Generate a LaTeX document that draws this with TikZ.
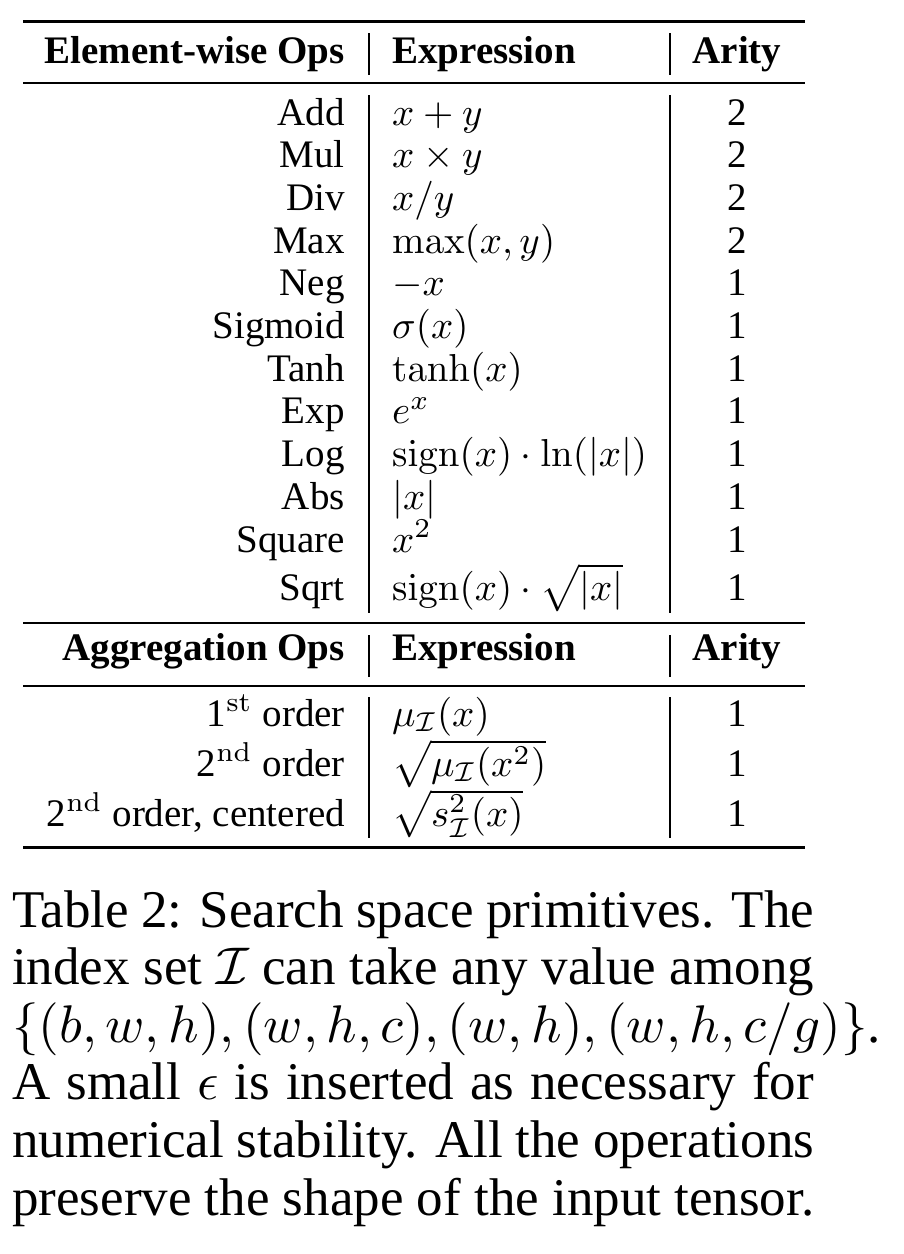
\documentclass[tikz,border=0pt]{standalone}
\usepackage{graphicx}
\usepackage[no-math]{fontspec}
\setmainfont{Liberation Serif}
\newcommand\TB[1]{\scalebox{3.9}{#1}}
\newcommand\CB[1]{\scalebox{5.3}{#1}}
\tikzset{
  tab/.style={inner sep=0pt, font=\fontsize{10}{12}\selectfont},
  hdrfont/.style={font=\fontsize{10}{12}\selectfont\bfseries},
  opname/.style={tab, anchor=base east},
  expr/.style={tab, anchor=base west},
  ar/.style={tab, anchor=base},
  captext/.style={inner sep=0pt, anchor=base west, font=\fontsize{10}{12}\selectfont},
  heavyrule/.style={line width=3pt},
  lightrule/.style={line width=2pt},
  colrule/.style={line width=1.4pt},
}
\begin{document}
\begin{tikzpicture}[x=1pt,y=-1pt]
\useasboundingbox (0,0) rectangle (904,1254);
% rules
\draw[heavyrule] (23,21) -- (805,21);
\draw[lightrule] (23,83) -- (805,83);
\draw[lightrule] (23,623) -- (805,623);
\draw[lightrule] (23,686) -- (805,686);
\draw[heavyrule] (23,847) -- (805,847);
% column rules
\draw[colrule] (369,33) -- (369,75);
\draw[colrule] (670,33) -- (670,75);
\draw[colrule] (369,95) -- (369,613);
\draw[colrule] (670,95) -- (670,613);
\draw[colrule] (369,635) -- (369,677);
\draw[colrule] (670,635) -- (670,677);
\draw[colrule] (369,697) -- (369,838);
\draw[colrule] (670,697) -- (670,838);
% header 1
\node[opname,hdrfont] (h1a) at (345,63) {\TB{Element-wise Ops}};
\node[expr,hdrfont] (h1b) at (392,63) {\TB{Expression}};
\node[ar,hdrfont] (h1c) at (737,63) {\TB{Arity}};
% element-wise rows
\node[opname] (r1a) at (345,125) {\TB{Add}};
\node[expr] (r1b) at (392,125) {\TB{$x+y$}};
\node[ar] (r1c) at (737,125) {\TB{2}};
\node[opname] (r2a) at (345,167.7) {\TB{Mul}};
\node[expr] (r2b) at (392,167.7) {\TB{$x\times y$}};
\node[ar] (r2c) at (737,167.7) {\TB{2}};
\node[opname] (r3a) at (345,210.4) {\TB{Div}};
\node[expr] (r3b) at (392,210.4) {\TB{$x/y$}};
\node[ar] (r3c) at (737,210.4) {\TB{2}};
\node[opname] (r4a) at (345,253.1) {\TB{Max}};
\node[expr] (r4b) at (392,253.1) {\TB{$\max(x,y)$}};
\node[ar] (r4c) at (737,253.1) {\TB{2}};
\node[opname] (r5a) at (345,295.8) {\TB{Neg}};
\node[expr] (r5b) at (392,295.8) {\TB{$-x$}};
\node[ar] (r5c) at (737,295.8) {\TB{1}};
\node[opname] (r6a) at (345,338.5) {\TB{Sigmoid}};
\node[expr] (r6b) at (392,338.5) {\TB{$\sigma(x)$}};
\node[ar] (r6c) at (737,338.5) {\TB{1}};
\node[opname] (r7a) at (345,381.2) {\TB{Tanh}};
\node[expr] (r7b) at (392,381.2) {\TB{$\tanh(x)$}};
\node[ar] (r7c) at (737,381.2) {\TB{1}};
\node[opname] (r8a) at (345,423.9) {\TB{Exp}};
\node[expr] (r8b) at (392,423.9) {\TB{$e^x$}};
\node[ar] (r8c) at (737,423.9) {\TB{1}};
\node[opname] (r9a) at (345,466.6) {\TB{Log}};
\node[expr] (r9b) at (392,466.6) {\TB{$\mathrm{sign}(x)\cdot\ln(|x|)$}};
\node[ar] (r9c) at (737,466.6) {\TB{1}};
\node[opname] (r10a) at (345,509.3) {\TB{Abs}};
\node[expr] (r10b) at (392,509.3) {\TB{$|x|$}};
\node[ar] (r10c) at (737,509.3) {\TB{1}};
\node[opname] (r11a) at (345,552) {\TB{Square}};
\node[expr] (r11b) at (392,552) {\TB{$x^2$}};
\node[ar] (r11c) at (737,552) {\TB{1}};
\node[opname] (r12a) at (345,600) {\TB{Sqrt}};
\node[expr] (r12b) at (392,600) {\TB{$\mathrm{sign}(x)\cdot\sqrt{|x|}$}};
\node[ar] (r12c) at (737,600) {\TB{1}};
% header 2
\node[opname,hdrfont] (h2a) at (345,660) {\TB{Aggregation Ops}};
\node[expr,hdrfont] (h2b) at (392,660) {\TB{Expression}};
\node[ar,hdrfont] (h2c) at (737,660) {\TB{Arity}};
% aggregation rows
\node[opname] (g1a) at (345,726) {\TB{1$^{\mathrm{st}}$ order}};
\node[expr] (g1b) at (392,726) {\TB{$\mu_{\mathcal{I}}(x)$}};
\node[ar] (g1c) at (737,726) {\TB{1}};
\node[opname] (g2a) at (345,776) {\TB{2$^{\mathrm{nd}}$ order}};
\node[expr] (g2b) at (392,776) {\TB{$\sqrt{\mu_{\mathcal{I}}(x^2)}$}};
\node[ar] (g2c) at (737,776) {\TB{1}};
\node[opname] (g3a) at (345,826) {\TB{2$^{\mathrm{nd}}$ order, centered}};
\node[expr] (g3b) at (392,826) {\TB{$\sqrt{s^2_{\mathcal{I}}(x)}$}};
\node[ar] (g3c) at (737,826) {\TB{1}};
% caption
\node[captext] (c1) at (12,927) {\CB{\makebox[151.3pt][s]{Table 2: Search space primitives. The}}};
\node[captext] (c2) at (12,984.6) {\CB{\makebox[151.3pt][s]{index set $\mathcal{I}$ can take any value among}}};
\node[captext] (c3) at (12,1042.2) {\CB{$\{(b,w,h),(w,h,c),(w,h),(w,h,c/g)\}$.}};
\node[captext] (c4) at (12,1099.8) {\CB{\makebox[151.3pt][s]{A small $\epsilon$ is inserted as necessary for}}};
\node[captext] (c5) at (12,1157.4) {\CB{\makebox[151.3pt][s]{numerical stability. All the operations}}};
\node[captext] (c6) at (12,1215) {\CB{preserve the shape of the input tensor.}};
\end{tikzpicture}
\end{document}
